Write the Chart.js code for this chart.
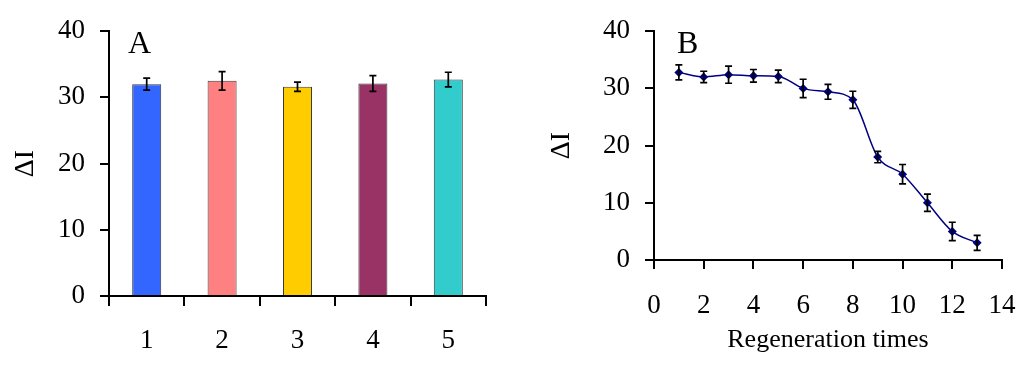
<!DOCTYPE html>
<html>
<head>
<meta charset="utf-8">
<script src="https://cdn.jsdelivr.net/npm/chart.js@4/dist/chart.umd.min.js"></script>
<style>
html, body { margin: 0; padding: 0; background: #fff; }
#wrap { position: relative; width: 1024px; height: 367px; }
canvas { position: absolute; top: 0; }
</style>
</head>
<body>
<div id="wrap">
  <canvas id="chartA" width="512" height="367" style="left:0"></canvas>
  <canvas id="chartB" width="512" height="367" style="left:512px"></canvas>
</div>
<script>
// panel A - five samples
var samples = ["1", "2", "3", "4", "5"];
var sampleMeans = [32.0, 32.5, 31.6, 32.1, 32.7];
var sampleErr = [0.9, 1.4, 0.7, 1.2, 1.1];
var sampleColors = ["#3366FF", "#FF8080", "#FFCC00", "#993366", "#33CCCC"];

// panel B - regeneration
var regenTimes = [1, 2, 3, 4, 5, 6, 7, 8, 9, 10, 11, 12, 13];
var regenMeans = [32.8, 32.0, 32.4, 32.2, 32.1, 30.0, 29.4, 28.0, 18.0, 15.0, 10.0, 5.0, 3.0];
var regenErr = [1.3, 1.0, 1.5, 1.1, 1.1, 1.6, 1.3, 1.5, 1.0, 1.7, 1.5, 1.6, 1.3];

var serif = "'Liberation Serif', 'Times New Roman', serif";
Chart.defaults.font.family = serif;
Chart.defaults.color = "#000";

// draws the +/- error whiskers through the y scale
var errorBars = {
    id: "errorBars",
    afterDatasetsDraw: function (chart, args, opts) {
        var ctx = chart.ctx;
        var yScale = chart.scales.y;
        var meta = chart.getDatasetMeta(0);
        ctx.save();
        ctx.strokeStyle = "#000";
        ctx.lineWidth = 1.7;
        meta.data.forEach(function (el, i) {
            var top = yScale.getPixelForValue(opts.values[i] + opts.errors[i]);
            var bot = yScale.getPixelForValue(opts.values[i] - opts.errors[i]);
            ctx.beginPath();
            ctx.moveTo(el.x, top); ctx.lineTo(el.x, bot);
            ctx.moveTo(el.x - 3.5, top); ctx.lineTo(el.x + 3.5, top);
            ctx.moveTo(el.x - 3.5, bot); ctx.lineTo(el.x + 3.5, bot);
            ctx.stroke();
        });
        ctx.restore();
    }
};

// big panel letter (A / B)
var panelLabel = {
    id: "panelLabel",
    afterDraw: function (chart, args, opts) {
        var ctx = chart.ctx;
        ctx.save();
        ctx.font = "32px " + serif;
        ctx.fillStyle = "#000";
        ctx.textAlign = "left";
        ctx.textBaseline = "alphabetic";
        ctx.fillText(opts.text, opts.x, opts.y);
        ctx.restore();
    }
};

function axisStyle(tickLen) {
    return {
        border: { display: true, color: "#000", width: 2 },
        grid: { drawOnChartArea: false, drawTicks: true, tickLength: tickLen, color: "#000", lineWidth: 2 }
    };
}

// ---- chart A ----
var ax = axisStyle(10);
var ay = axisStyle(9);
new Chart(document.getElementById("chartA").getContext("2d"), {
    type: "bar",
    data: {
        labels: samples,
        datasets: [{
            data: sampleMeans,
            backgroundColor: sampleColors,
            borderColor: "#3a3a3a",
            borderWidth: 1,
            categoryPercentage: 1,
            barPercentage: 0.385
        }]
    },
    options: {
        responsive: false,
        animation: false,
        layout: { padding: { top: 25, right: 26, left: 0, bottom: 0 } },
        plugins: {
            legend: { display: false },
            tooltip: { enabled: false },
            errorBars: { values: sampleMeans, errors: sampleErr },
            panelLabel: { text: "A", x: 128, y: 53 }
        },
        scales: {
            x: {
                border: ax.border,
                grid: Object.assign({ offset: true }, ax.grid),
                ticks: { font: { size: 27 }, padding: 19, color: "#000" },
                afterFit: function (s) { s.height = 71; }
            },
            y: {
                min: 0, max: 40,
                border: ay.border,
                grid: ay.grid,
                ticks: { stepSize: 10, font: { size: 27 }, padding: 15, color: "#000" },
                title: { display: true, text: "ΔI", font: { size: 28 }, padding: { top: 9 } },
                afterFit: function (s) { s.width = 109; }
            }
        }
    },
    plugins: [errorBars, panelLabel]
});

// ---- chart B ----
var bx = axisStyle(9);
var by = axisStyle(9);
new Chart(document.getElementById("chartB").getContext("2d"), {
    type: "line",
    data: {
        datasets: [{
            data: regenTimes.map(function (t, i) { return { x: t, y: regenMeans[i] }; }),
            borderColor: "#000080",
            borderWidth: 1.5,
            backgroundColor: "#000080",
            pointStyle: "rectRot",
            pointRadius: 4.5,
            pointBorderWidth: 0,
            cubicInterpolationMode: "monotone",
            fill: false
        }]
    },
    options: {
        responsive: false,
        animation: false,
        layout: { padding: { top: 22, right: 22, left: 0, bottom: 0 } },
        plugins: {
            legend: { display: false },
            tooltip: { enabled: false },
            errorBars: { values: regenMeans, errors: regenErr },
            panelLabel: { text: "B", x: 165, y: 53 }
        },
        scales: {
            x: {
                type: "linear",
                min: 0, max: 14,
                border: bx.border,
                grid: bx.grid,
                ticks: { stepSize: 2, font: { size: 27 }, padding: 21, color: "#000" },
                title: { display: true, text: "Regeneration times", font: { size: 26 }, padding: { bottom: 11 } },
                afterFit: function (s) {
                    s.height = 107;
                    // tick padding is large, keep it from widening the side margins
                    s.paddingLeft = 15;
                    s.paddingRight = 15;
                }
            },
            y: {
                min: 0, max: 40,
                border: by.border,
                grid: by.grid,
                ticks: { stepSize: 10, font: { size: 27 }, padding: 15, color: "#000" },
                title: { display: true, text: "ΔI", font: { size: 28 }, padding: { top: 33 } },
                afterFit: function (s) { s.width = 142; }
            }
        }
    },
    plugins: [errorBars, panelLabel]
});
</script>
</body>
</html>
